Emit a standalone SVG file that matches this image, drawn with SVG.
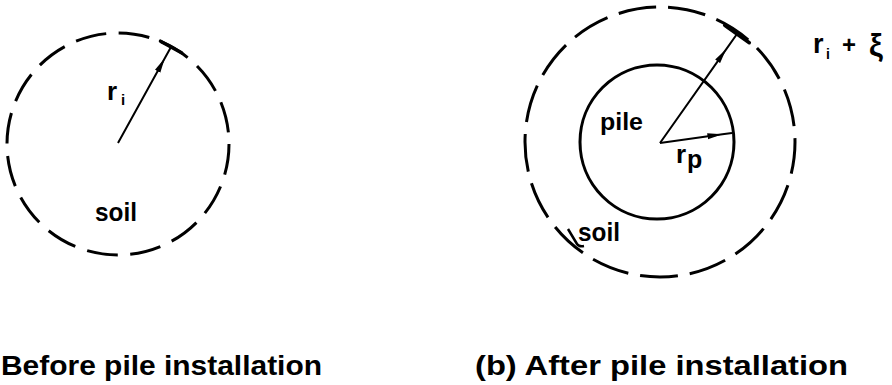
<svg xmlns="http://www.w3.org/2000/svg" width="892" height="385" viewBox="0 0 892 385">
  <style>
    .dash { fill: none; stroke: #000; stroke-width: 3; }
    .solid { fill: none; stroke: #000; stroke-width: 3; }
    .radius { fill: none; stroke: #000; stroke-width: 2; }
    .tick { fill: none; stroke: #000; stroke-width: 3.5; stroke-linecap: round; }
    .lbl { font-family: "Liberation Sans", Arial, sans-serif; font-weight: bold; fill: #000; }
  </style>
  <defs>
    <marker id="ah" viewBox="0 0 15 7" refX="15" refY="3.5" markerWidth="15" markerHeight="7" markerUnits="userSpaceOnUse" orient="auto">
      <path d="M0,0.5 L15,3.5 L0,6.5 Z" fill="#000"/>
    </marker>
  </defs>
  <rect width="892" height="385" fill="#fff"/>

  <g id="before-soil-boundary">
    <circle class="dash" cx="118" cy="144" r="111" stroke-dasharray="31 12.6"/>
    <text class="lbl" x="95" y="221" font-size="25" textLength="42" lengthAdjust="spacingAndGlyphs">soil</text>
  </g>
  <g id="before-label-ri">
    <text class="lbl"><tspan x="107" y="100" font-size="26">r</tspan><tspan x="121" y="105" font-size="15">i</tspan></text>
  </g>

  <g id="after-soil-boundary">
    <circle class="dash" cx="660" cy="142" r="135" stroke-dasharray="38 12" stroke-dashoffset="6"/>
    <text class="lbl" x="578" y="241" font-size="25" textLength="42" lengthAdjust="spacingAndGlyphs">soil</text>
    <path d="M568,229 L577,244 Q579,247 584,246" fill="none" stroke="#000" stroke-width="2.5"/>
  </g>
  <g id="after-pile">
    <circle class="solid" cx="657" cy="142" r="77"/>
    <text class="lbl" x="600" y="130" font-size="24" textLength="43" lengthAdjust="spacingAndGlyphs">pile</text>
  </g>
  <g id="after-label-rp">
    <text class="lbl"><tspan x="676" y="163" font-size="26">r</tspan><tspan x="687" y="168" font-size="25">p</tspan></text>
  </g>
  <g id="after-label-ri-xi">
    <text class="lbl"><tspan x="813" y="53" font-size="27">r</tspan><tspan x="826" y="59" font-size="14">i</tspan><tspan x="842" y="53" font-size="24">+</tspan><tspan x="869" y="56" font-size="31">ξ</tspan></text>
  </g>

  <g id="connectors">
    <path class="radius" d="M118,143 L164.9,58.1 L171,47" marker-mid="url(#ah)"/>
    <line class="tick" x1="160.5" y1="41.2" x2="181.5" y2="52.8"/>
    <path class="radius" d="M660,143 L726.3,49.1 L737,34" marker-mid="url(#ah)"/>
    <line class="tick" x1="724.7" y1="25.3" x2="749.3" y2="42.7"/>
    <path class="radius" d="M660,143 L722.4,134.3 L732,133" marker-mid="url(#ah)"/>
  </g>

  <g id="captions">
    <text class="lbl" x="1" y="375" font-size="28" textLength="321" lengthAdjust="spacingAndGlyphs">Before pile installation</text>
    <text class="lbl" x="475" y="375" font-size="28" textLength="373" lengthAdjust="spacingAndGlyphs">(b) After pile installation</text>
  </g>
</svg>
